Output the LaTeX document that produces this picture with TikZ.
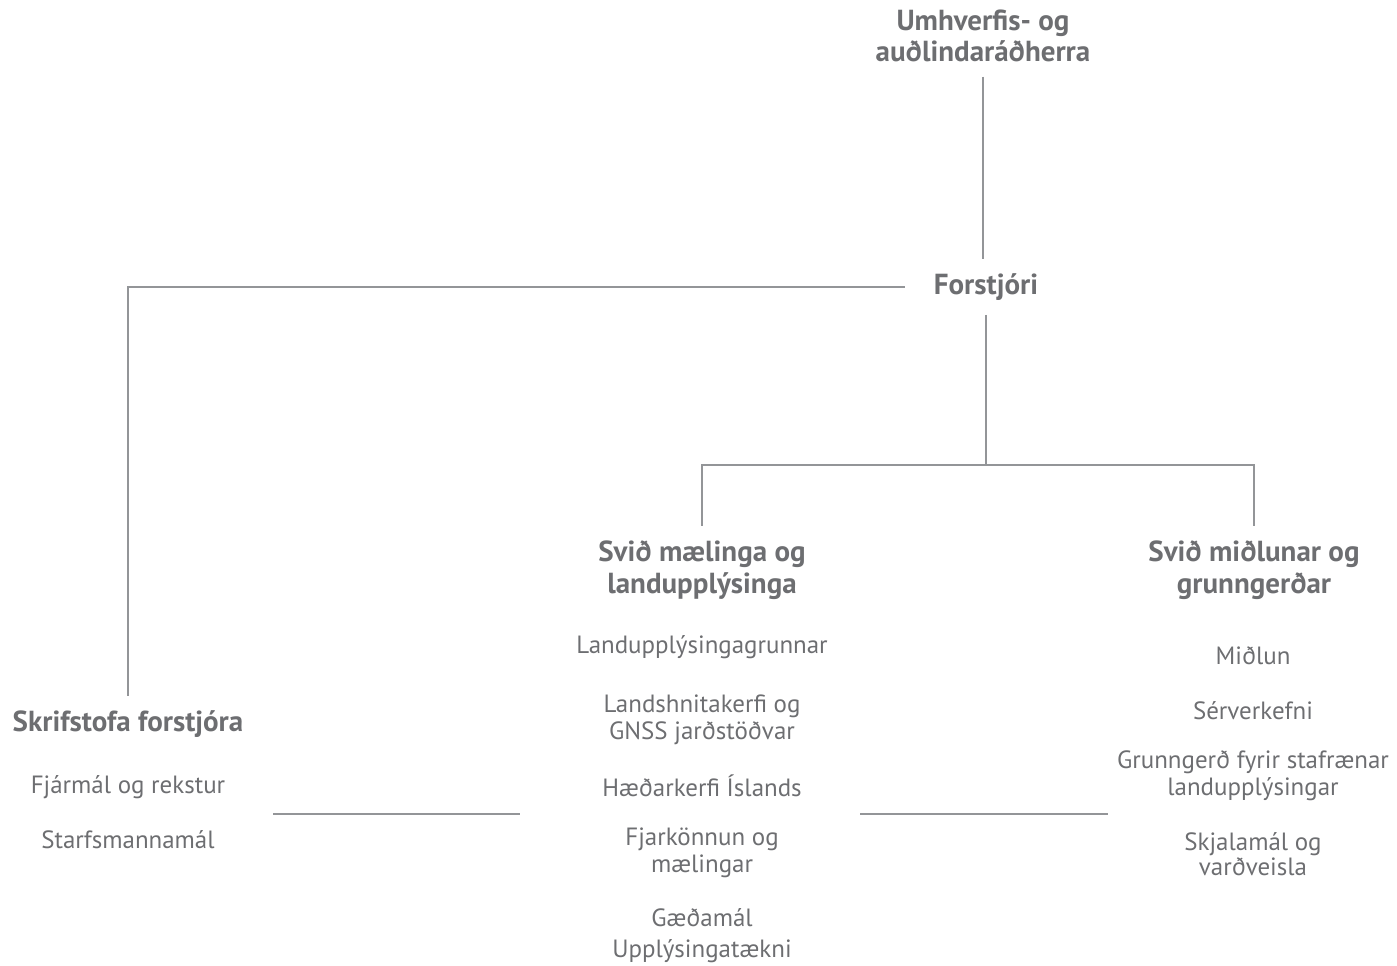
\documentclass[tikz,border=0pt]{standalone}
\usepackage{fontspec}
\setmainfont{PT Sans}
\usepackage{tikz}
\usetikzlibrary{positioning}
\definecolor{textgray}{HTML}{6D6E71}
\definecolor{linegray}{HTML}{939598}

\begin{document}
\begin{tikzpicture}[
  titlebox/.style={text=textgray, font=\fontsize{16.5}{18}\selectfont\bfseries, align=center, inner sep=8pt},
  itembox/.style={text=textgray, font=\fontsize{14.2}{15.5}\selectfont, align=center, inner sep=2pt},
  orgline/.style={draw=linegray, line width=1.5pt}
]
\useasboundingbox (0,0) rectangle (27.94,-19.32);

% Top of the chart
\node[titlebox] (radherra) at (19.66,-0.72) {Umhverfis- og\\auðlindaráðherra};
\node[titlebox] (forstjori) at (19.72,-5.74) {Forstjóri};

% Divisions
\node[titlebox] (skrifstofa) at (2.56,-14.48) {Skrifstofa forstjóra};
\node[titlebox] (maelinga) at (14.04,-11.40) {Svið mælinga og\\landupplýsinga};
\node[titlebox] (midlunar) at (25.08,-11.40) {Svið miðlunar og\\grunngerðar};

% Skrifstofa forstjora units
\node[itembox] (fjarmal) at (2.56,-15.74) {Fjármál og rekstur};
\node[itembox] (starfs) at (2.56,-16.80) {Starfsmannamál};

% Mælinga units
\node[itembox] (grunnar) at (14.04,-12.94) {Landupplýsingagrunnar};
\node[itembox] (hnit) at (14.04,-14.40) {Landshnitakerfi og\\GNSS jarðstöðvar};
\node[itembox] (haed) at (14.04,-15.72) {Hæðarkerfi Íslands};
\node[itembox] (fjark) at (14.04,-17.06) {Fjarkönnun og\\mælingar};
\node[itembox] (gaedi) at (14.04,-18.36) {Gæðamál};
\node[itembox] (upplt) at (14.04,-19.02) {Upplýsingatækni};

% Miðlunar units
\node[itembox] (midlun) at (25.06,-13.12) {Miðlun};
\node[itembox] (serverk) at (25.06,-14.22) {Sérverkefni};
\node[itembox] (grunng) at (25.06,-15.52) {Grunngerð fyrir stafrænar\\landupplýsingar};
\node[itembox, font=\fontsize{14.2}{12.5}\selectfont] (skjal) at (25.06,-17.08) {Skjalamál og\\varðveisla};

% Connectors
\coordinate (split) at (19.72,-9.30);
\draw[orgline] (radherra.south) -- (radherra.south |- forstjori.north);
\draw[orgline, shorten <=8.5pt] (forstjori.west) -| (skrifstofa.north);
\draw[orgline] (forstjori.south) -- (split);
\draw[orgline] (split) -| (maelinga.north);
\draw[orgline] (split) -| (midlunar.north);

% Loose separators
\coordinate (sepAa) at (5.46,-16.28);
\coordinate (sepAb) at (10.40,-16.28);
\coordinate (sepBa) at (17.20,-16.28);
\coordinate (sepBb) at (22.16,-16.28);
\draw[orgline] (sepAa) -- (sepAb);
\draw[orgline] (sepBa) -- (sepBb);

\end{tikzpicture}
\end{document}
